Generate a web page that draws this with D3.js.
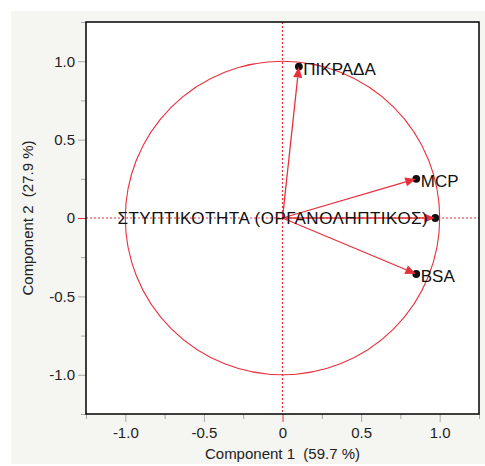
<!DOCTYPE html>
<html>
<head>
<meta charset="utf-8">
<script src="https://cdn.jsdelivr.net/npm/d3@7"></script>
<style>
  html, body { margin: 0; padding: 0; background: #fff; }
  svg { display: block; font-family: "Liberation Sans", Arial, Helvetica, sans-serif; }
  text { white-space: pre; }
</style>
</head>
<body>
<svg id="chart" width="485" height="466"></svg>
<script>
// Loading plot: variable loadings on the first two principal components
const variables = ["ΠΙΚΡΑΔΑ", "MCP", "ΣΤΥΠΤΙΚΟΤΗΤΑ (ΟΡΓΑΝΟΛΗΠΤΙΚΟΣ)", "BSA"];
const comp1 = [0.104, 0.851, 0.972, 0.851];
const comp2 = [0.966, 0.250, 0.000, -0.357];
const labelSide = ["right", "right", "left", "right"];
const majorTicks = [-1.0, -0.5, 0, 0.5, 1.0];
const minorTicks = [-1.25, -0.75, -0.25, 0.25, 0.75, 1.25];
const xTitle = "Component 1  (59.7 %)";
const yTitle = "Component 2  (27.9 %)";

const red = "#e8303c";
const svg = d3.select("#chart");

// panel background
svg.append("rect").attr("x", 11).attr("y", 11).attr("width", 474).attr("height", 453).attr("fill", "#f5f5f1");

const box = { left: 86, top: 22, right: 479, bottom: 414 };
const x = d3.scaleLinear().domain([-1.25, 1.25]).range([box.left, box.right]);
const y = d3.scaleLinear().domain([-1.25, 1.25]).range([box.bottom, box.top]);

svg.append("rect").attr("x", box.left).attr("y", box.top)
  .attr("width", box.right - box.left).attr("height", box.bottom - box.top)
  .attr("fill", "#fff");

const fmt = d => d === 0 ? "0" : d3.format(".1f")(d).replace("\u2212", "-");

// axes
const xAxis = svg.append("g").attr("transform", `translate(0,${box.bottom})`)
  .call(d3.axisBottom(x).tickValues(majorTicks).tickFormat(fmt).tickSize(8).tickPadding(5));
const yAxis = svg.append("g").attr("transform", `translate(${box.left},0)`)
  .call(d3.axisLeft(y).tickValues(majorTicks).tickFormat(fmt).tickSize(8).tickPadding(3));
svg.append("g").attr("transform", `translate(0,${box.bottom})`)
  .call(d3.axisBottom(x).tickValues(minorTicks).tickFormat("").tickSize(5));
svg.append("g").attr("transform", `translate(${box.left},0)`)
  .call(d3.axisLeft(y).tickValues(minorTicks).tickFormat("").tickSize(5));

svg.selectAll(".domain").remove();
svg.selectAll(".tick line").attr("stroke", "#a8a8a8");
svg.selectAll(".tick text").attr("fill", "#222").attr("font-size", 15);
xAxis.selectAll(".tick").filter(d => d === 0).select("line").attr("stroke", red);
yAxis.selectAll(".tick").filter(d => d === 0).select("line").attr("stroke", red);

// axis titles
svg.append("text").attr("x", x(0)).attr("y", 459).attr("text-anchor", "middle")
  .attr("font-size", 15).attr("fill", "#222").text(xTitle);
svg.append("text").attr("transform", `translate(33,${y(0)}) rotate(-90)`).attr("text-anchor", "middle")
  .attr("font-size", 15).attr("fill", "#222").text(yTitle);

// plot content
const g = svg.append("g");
g.append("line").attr("x1", x(0)).attr("x2", x(0)).attr("y1", box.top).attr("y2", box.bottom)
  .attr("stroke", red).attr("stroke-width", 1.2).attr("stroke-dasharray", "2,2");
g.append("line").attr("x1", box.left).attr("x2", box.right).attr("y1", y(0)).attr("y2", y(0))
  .attr("stroke", red).attr("stroke-width", 1.2).attr("stroke-dasharray", "2,2");

// unit circle
g.append("ellipse").attr("cx", x(0)).attr("cy", y(0))
  .attr("rx", x(1) - x(0)).attr("ry", y(0) - y(1))
  .attr("fill", "none").attr("stroke", red).attr("stroke-width", 1.1);

const data = variables.map((v, i) => ({ name: v, c1: comp1[i], c2: comp2[i], side: labelSide[i] }));

// endpoint markers
g.selectAll(".dot").data(data).join("circle")
  .attr("cx", d => x(d.c1)).attr("cy", d => y(d.c2)).attr("r", 3.9).attr("fill", "#111");

// arrows, tip on the marker centre
data.forEach(d => {
  const x0 = x(0), y0 = y(0), x1 = x(d.c1), y1 = y(d.c2);
  const ang = Math.atan2(y1 - y0, x1 - x0);
  const len = 10.5, half = 4.6;
  const tx = x1 - 0.5 * Math.cos(ang), ty = y1 - 0.5 * Math.sin(ang);
  const bx = tx - len * Math.cos(ang), by = ty - len * Math.sin(ang);
  g.append("line").attr("x1", x0).attr("y1", y0).attr("x2", bx).attr("y2", by)
    .attr("stroke", red).attr("stroke-width", 1.3);
  const px = -Math.sin(ang), py = Math.cos(ang);
  g.append("path")
    .attr("d", `M${tx},${ty}L${bx + half * px},${by + half * py}L${bx - half * px},${by - half * py}Z`)
    .attr("fill", red);
});

// labels
g.selectAll(".lab").data(data).join("text")
  .attr("x", d => d.side === "right" ? x(d.c1) + 4.5 : x(d.c1) - 7)
  .attr("y", d => d.side === "right" ? y(d.c2) + 8.5 : y(d.c2) + 6)
  .attr("text-anchor", d => d.side === "right" ? "start" : "end")
  .attr("letter-spacing", d => d.side === "right" ? 0 : 0.5)
  .attr("font-size", 17).attr("fill", "#111").text(d => d.name);

// frame
svg.append("rect").attr("x", box.left).attr("y", box.top)
  .attr("width", box.right - box.left).attr("height", box.bottom - box.top)
  .attr("fill", "none").attr("stroke", "#000").attr("stroke-width", 1.5);
</script>
</body>
</html>
